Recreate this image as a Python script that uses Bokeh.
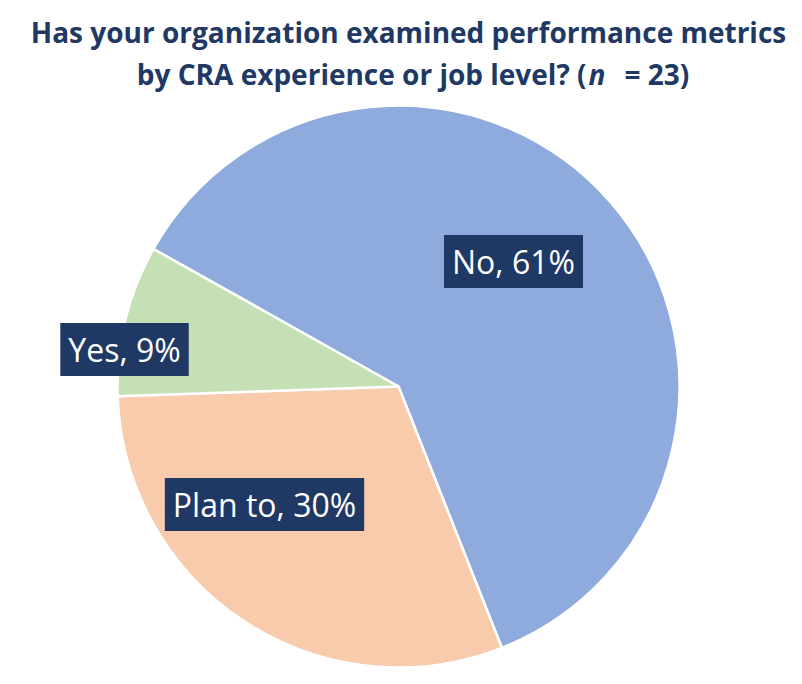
from bokeh.plotting import figure
from bokeh.models import Range1d, Label, ColumnDataSource
from bokeh.embed import file_html
from bokeh.resources import INLINE
import math

# ---- data ----
categories = ["No", "Plan to", "Yes"]
counts = [14, 7, 2]
percent_labels = ["61%", "30%", "9%"]
colors = ["#8FAADC", "#F8CBAD", "#C5E0B4"]
title_line1 = "Has your organization examined performance metrics"
title_line2a = "by CRA experience or job level? ("
title_line2b = "n"
title_line2c = "= 23)"

W, H = 786, 668
NAVY = "#203864"
FONT = "Open Sans"
TSIZE = "28px"

p = figure(width=W, height=H, output_backend="svg", toolbar_location=None,
           x_range=Range1d(0, W), y_range=Range1d(0, H), min_border=0)
p.axis.visible = False
p.grid.visible = False
p.outline_line_color = None

# pie geometry (layout)
cx, cy, r = 398, H - 386, 281
start_deg = 150.7  # first slice starts here, running clockwise

total = sum(counts)
starts, ends = [], []
a = math.radians(start_deg)
for c in counts:
    span = 2 * math.pi * c / total
    starts.append(a - span)
    ends.append(a)
    a -= span

src = ColumnDataSource(dict(cat=categories, start=starts, end=ends, color=colors))
p.wedge(x=cx, y=cy, radius=r, start_angle="start", end_angle="end",
        fill_color="color", line_color="white", line_width=2.5, source=src)

# data labels (screen positions of box centres)
label_pos = {"No": (513, 261), "Plan to": (264, 504), "Yes": (124, 349)}
for cat, pct in zip(categories, percent_labels):
    x, y = label_pos[cat]
    p.add_layout(Label(x=x, y=H - y, text=f"{cat}, {pct}", text_font=FONT,
                       text_font_size="32px", text_color="white",
                       text_align="center", text_baseline="middle",
                       background_fill_color=NAVY,
                       padding=dict(left=8, right=8, top=5, bottom=5)))

# title
y1, y2 = 31, 73
p.add_layout(Label(x=408, y=H - y1, text=title_line1, text_font=FONT,
                   text_font_size=TSIZE, text_font_style="bold",
                   text_color=NAVY, text_align="center", text_baseline="middle"))
p.add_layout(Label(x=586, y=H - y2, text=title_line2a, text_font=FONT,
                   text_font_size=TSIZE, text_font_style="bold",
                   text_color=NAVY, text_align="right", text_baseline="middle"))
p.add_layout(Label(x=588, y=H - y2, text=title_line2b, text_font=FONT,
                   text_font_size=TSIZE, text_font_style="bold italic",
                   text_color=NAVY, text_align="left", text_baseline="middle"))
p.add_layout(Label(x=624, y=H - y2, text=title_line2c, text_font=FONT,
                   text_font_size=TSIZE, text_font_style="bold",
                   text_color=NAVY, text_align="left", text_baseline="middle"))

open("out.html", "w").write(file_html(p, INLINE))
